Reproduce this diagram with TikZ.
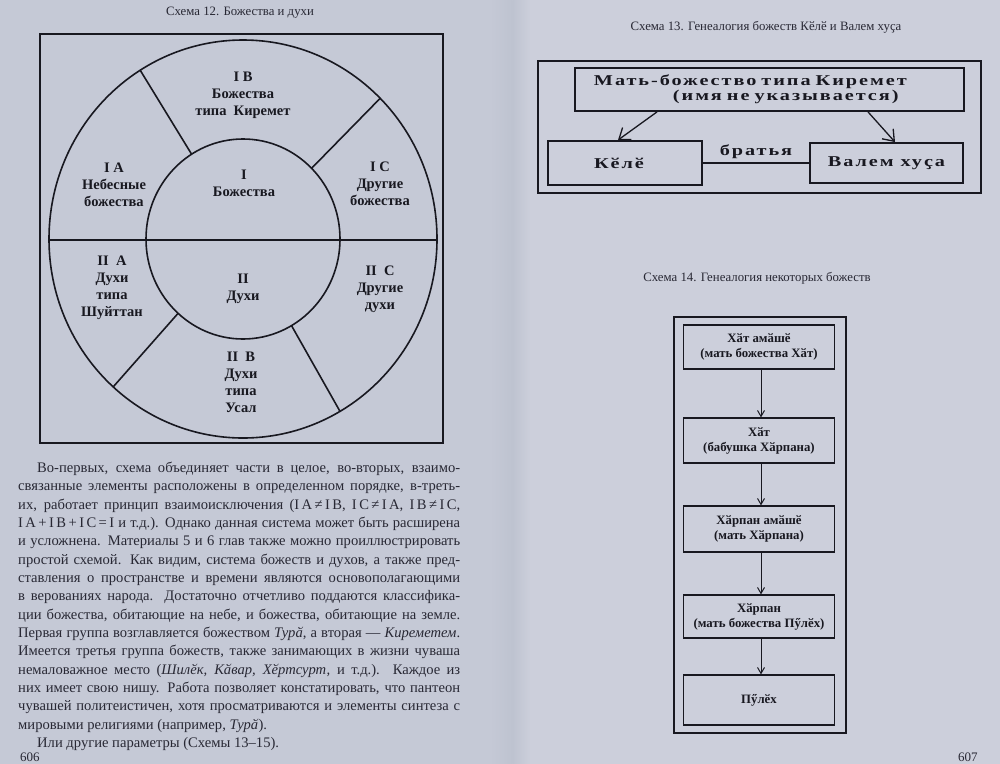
\documentclass[tikz,border=0pt]{standalone}
\usepackage{fontspec}
\setmainfont{Liberation Serif}
\newfontfamily\widefont[FakeStretch=1.35,LetterSpace=13]{Liberation Serif}
\usetikzlibrary{arrows.meta,calc}
\definecolor{pageL}{RGB}{197,201,214}
\definecolor{pageR}{RGB}{204,207,219}
\definecolor{gutter}{RGB}{190,195,208}
\definecolor{ink}{RGB}{24,24,32}
\definecolor{textink}{RGB}{40,40,52}
\begin{document}
\begin{tikzpicture}[x=1pt,y=-1pt,
  title/.style={font=\fontsize{12.8}{15}\selectfont, text=textink, inner sep=0pt},
  lab/.style={font=\fontsize{14.5}{17}\selectfont\bfseries, text=ink, align=center, inner sep=0pt},
  ring/.style={draw=ink, line width=1.6pt},
  wfont/.style={font=\widefont\fontsize{15}{13}\selectfont\bfseries, text=ink},
  wbox/.style={draw=ink, line width=1.9pt, wfont},
  gbox/.style={draw=ink, line width=1.2pt, minimum width=151pt, font=\fontsize{12.8}{15}\selectfont\bfseries, text=ink, align=center},
  bigarrow/.style={draw=ink, line width=1.3pt, -{Straight Barb[length=10pt,width=15pt,line width=1.3pt]}},
  smallarrow/.style={draw=ink, line width=1pt, -{Straight Barb[length=6pt,width=7pt,line width=1pt]}},
  body/.style={font=\fontsize{14.6}{18.33}\selectfont, text=textink, inner sep=0pt, text width=442pt, align=justify, anchor=north west},
  pnum/.style={font=\fontsize{13}{15}\selectfont, text=textink, anchor=south west, inner sep=0pt}
]
\useasboundingbox (0,0) rectangle (1000,763);
% pages
\fill[pageL] (-2,-2) rectangle (513,765);
\fill[pageR] (513,-2) rectangle (1002,765);
\shade[left color=pageL, right color=gutter] (490,-2) rectangle (512.5,765);
\shade[left color=gutter, right color=pageR] (512.5,-2) rectangle (530,765);

% ================= Schema 12 =================
\node[title] (t12) at (240,13) {Схема 12. Божества и духи};
\draw[draw=ink, line width=1.3pt] (40,34) rectangle (443,443);
\coordinate (C) at (243,239);
\draw[ring] (C) ellipse [x radius=194, y radius=199];
\draw[ring] (C) ellipse [x radius=97, y radius=100];
\coordinate (hl) at (49,240);
\coordinate (hr) at (437,240);
\draw[ring] (hl) -- (hr);
\foreach \a/\n in {122/ul,45/ur,228/ll,300/lr}{
  \coordinate (o\n) at ($(C)+({194*cos(\a)},{-199*sin(\a)})$);
  \coordinate (i\n) at ($(C)+({97*cos(\a)},{-100*sin(\a)})$);
  \draw[ring] (i\n) -- (o\n);
}
\node[lab] (IB) at (243,95) {I B\\Божества\\типа\ \ Киремет};
\node[lab] (IA) at (114,185) {I A\\Небесные\\божества};
\node[lab] (I) at (244,183) {I\\Божества};
\node[lab] (IC) at (380,184) {I C\\Другие\\божества};
\node[lab] (IIA) at (112,288) {II\ \ A\\Духи\\типа\\Шуйттан};
\node[lab] (II) at (243,289) {II\\Духи};
\node[lab] (IIC) at (380,289) {II\ \ C\\Другие\\духи};
\node[lab] (IIB) at (241,382) {II\ \ B\\Духи\\типа\\Усал};

% body text
\node[body] (txt) at (18,462) {%
\hspace*{19pt}Во-первых, схема объединяет части в целое, во-вторых, взаимо-\linebreak
связанные элементы расположены в определенном порядке, в-треть-\linebreak
их, работает принцип взаимоисключения (I\,A\,≠\,I\,B, I\,C\,≠\,I\,A, I\,B\,≠\,I\,C,\linebreak
I\,A\,+\,I\,B\,+\,I\,C\,=\,I и т.д.). Однако данная система может быть расширена\linebreak
и усложнена. Материалы 5 и 6 глав также можно проиллюстрировать\linebreak
простой схемой. Как видим, система божеств и духов, а также пред-\linebreak
ставления о пространстве и времени являются основополагающими\linebreak
в верованиях народа. Достаточно отчетливо поддаются классифика-\linebreak
ции божества, обитающие на небе, и божества, обитающие на земле.\linebreak
Первая группа возглавляется божеством \textit{Турӑ}, а вторая — \textit{Киреметем}.\linebreak
Имеется третья группа божеств, также занимающих в жизни чуваша\linebreak
немаловажное место (\textit{Шилӗк, Кӑвар, Хӗртсурт,} и т.д.). Каждое из\linebreak
них имеет свою нишу. Работа позволяет констатировать, что пантеон\linebreak
чувашей политеистичен, хотя просматриваются и элементы синтеза с\linebreak
мировыми религиями (например, \textit{Турӑ}).\par
\hspace*{19pt}Или другие параметры (Схемы 13–15).\par};
\node[pnum] (p606) at (20,762) {606};

% ================= Schema 13 =================
\node[title] (t13) at (766,27) {Схема 13. Генеалогия божеств Кӗлӗ и Валем хуҫа};
\draw[draw=ink, line width=1.1pt] (538,61) rectangle (981,193);
\node[wbox, anchor=north west, inner xsep=19pt, text width=351pt, minimum height=43pt, align=left] (mother) at (574,67)
  {Мать-божество типа Киремет\\\hspace*{79pt}(имя не указывается)};
\node[wbox, minimum width=154pt, minimum height=44pt] (kele) at (625,163) {Кӗлӗ\hspace*{12pt}};
\node[wbox, minimum width=153pt, minimum height=40pt] (valem) at (886.5,163) {Валем хуҫа};
\draw[draw=ink, line width=1.2pt] (kele.east) -- node[above=4pt, wfont, inner sep=0pt] (bro) {братья} (valem.west);
\draw[bigarrow] ($(mother.south west)+(83,0)$) -- ($(kele.north)+(-7,0)$);
\draw[bigarrow] ($(mother.south west)+(294,0)$) -- ($(valem.north)+(8.5,0)$);

% ================= Schema 14 =================
\node[title] (t14) at (757,278) {Схема 14. Генеалогия некоторых божеств};
\draw[draw=ink, line width=1.1pt] (674,317) rectangle (846,733);
\node[gbox, minimum height=44pt] (b1) at (759,347) {Хӑт амӑшӗ\\(мать божества Хӑт)};
\node[gbox, minimum height=45pt] (b2) at (759,440.5) {Хӑт\\(бабушка Хӑрпана)};
\node[gbox, minimum height=46pt] (b3) at (759,529) {Хӑрпан амӑшӗ\\(мать Хӑрпана)};
\node[gbox, minimum height=43pt] (b4) at (759,616.5) {Хӑрпан\\(мать божества Пӳлӗх)};
\node[gbox, minimum height=50pt] (b5) at (759,700) {Пӳлӗх};
\foreach \u/\v in {b1/b2,b2/b3,b3/b4,b4/b5}{
  \draw[smallarrow] ($(\u.south)+(2,0)$) -- ($(\v.north)+(2,0)$);
}
\node[pnum] (p607) at (958,762) {607};
\end{tikzpicture}
\end{document}
